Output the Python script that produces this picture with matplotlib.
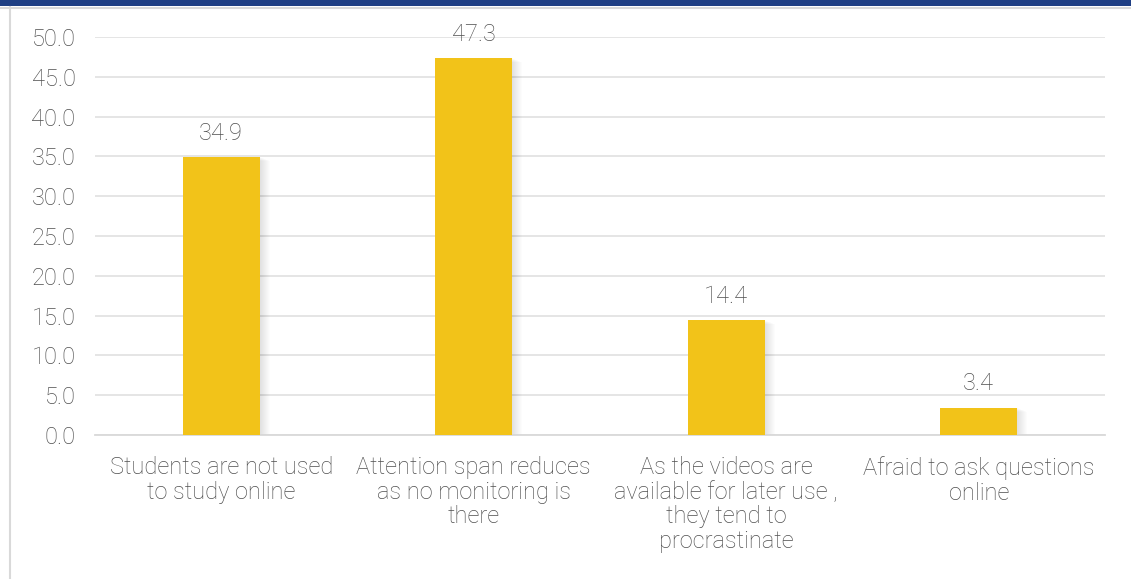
import matplotlib
matplotlib.use("Agg")
import matplotlib.pyplot as plt
from matplotlib.patches import Rectangle
from matplotlib.lines import Line2D

categories = [
    "Students are not used\nto study online",
    "Attention span reduces\nas no monitoring is\nthere",
    "As the videos are\navailable for later use ,\nthey tend to\nprocrastinate",
    "Afraid to ask questions\nonline",
]
values = [34.9, 47.3, 14.4, 3.4]
yticks = [0, 5, 10, 15, 20, 25, 30, 35, 40, 45, 50]

W, H = 1131, 579
fig = plt.figure(figsize=(W / 100, H / 100), dpi=100)
fig.patch.set_facecolor("white")

# header band and frame
fig.add_artist(Rectangle((0, 1 - 6 / H), 1, 6 / H, transform=fig.transFigure,
                         facecolor="#1F3F84", edgecolor="none"))
fig.add_artist(Line2D([0, 1], [1 - 7.5 / H, 1 - 7.5 / H], transform=fig.transFigure,
                      color="#D9D9D9", lw=1.5))
fig.add_artist(Line2D([9.5 / W, 9.5 / W], [0, 1 - 7 / H], transform=fig.transFigure,
                      color="#D9D9D9", lw=1.5))

ax = fig.add_axes([95 / W, 1 - 435 / H, 1010 / W, (435 - 37) / H])
ax.set_xlim(-0.5, len(values) - 0.5)
ax.set_ylim(0, 50)

x = list(range(len(values)))
bw = 0.305
fkw = dict(family="Roboto", weight="light", color="#4F4F4F")
fs = 17

# soft shadow on the right side of each bar
for k in range(10):
    off = 0.004 * (k + 1)
    ax.bar([xi + off for xi in x], [v - 0.05 * k for v in values], width=bw,
           color="black", alpha=0.012, zorder=2, linewidth=0)

ax.bar(x, values, width=bw, color="#F2C319", zorder=3, linewidth=0)

for xi, v in zip(x, values):
    ax.annotate(f"{v:.1f}", (xi, v), xytext=(0, 9), textcoords="offset points",
                ha="center", va="bottom", fontsize=fs, **fkw)

ax.set_yticks(yticks)
ax.set_yticklabels([f"{t:.1f}" for t in yticks], fontsize=fs, **fkw)
ax.set_xticks(x)
ax.set_xticklabels(categories, fontsize=fs, linespacing=1.1, **fkw)
ax.tick_params(axis="both", length=0)
ax.tick_params(axis="y", pad=14)
ax.tick_params(axis="x", pad=15)

ax.yaxis.grid(True, color="#E3E3E3", lw=1.3)
ax.set_axisbelow(True)
for s in ["top", "right", "left"]:
    ax.spines[s].set_visible(False)
ax.spines["bottom"].set_color("#D9D9D9")
ax.spines["bottom"].set_linewidth(1.3)

fig.savefig("out.png", dpi=100)
